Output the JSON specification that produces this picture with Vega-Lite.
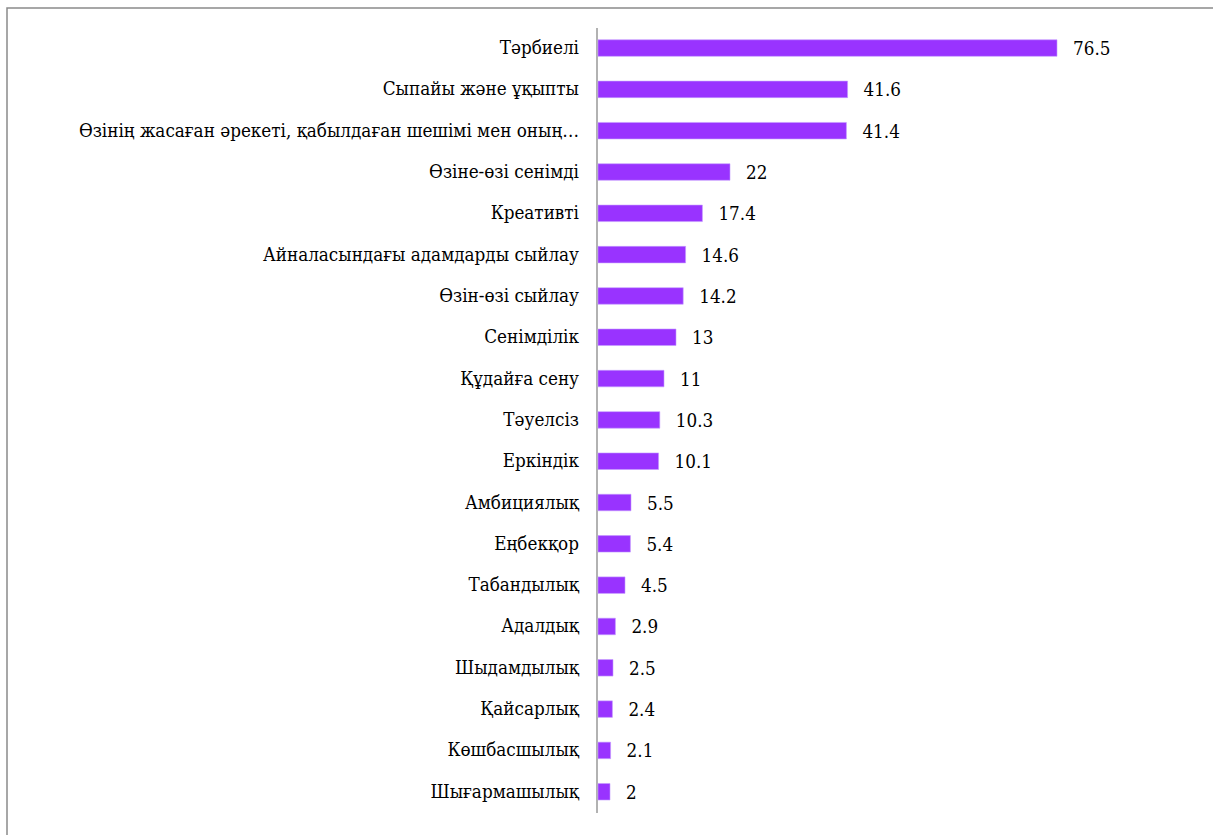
{
  "$schema": "https://vega.github.io/schema/vega-lite/v6.json",
  "autosize": {"type": "none"},
  "padding": {"left": 7, "top": 8, "right": 0, "bottom": 0},
  "width": 1230,
  "height": 850,
  "background": "white",
  "config": {
    "view": {"stroke": "#8a8a8a", "strokeWidth": 1.5},
    "font": "DejaVu Serif Condensed"
  },
  "data": {
    "values": [
      {"label": "Тәрбиелі\u00a0", "value": 76.5},
      {"label": "Сыпайы және ұқыпты", "value": 41.6},
      {"label": "Өзінің жасаған әрекеті, қабылдаған шешімі мен оның…", "value": 41.4},
      {"label": "Өзіне-өзі сенімді", "value": 22},
      {"label": "Креативті", "value": 17.4},
      {"label": "Айналасындағы адамдарды сыйлау\u00a0", "value": 14.6},
      {"label": "Өзін-өзі сыйлау\u00a0", "value": 14.2},
      {"label": "Сенімділік\u00a0", "value": 13},
      {"label": "Құдайға сену", "value": 11},
      {"label": "Тәуелсіз\u00a0", "value": 10.3},
      {"label": "Еркіндік", "value": 10.1},
      {"label": "Амбициялық", "value": 5.5},
      {"label": "Еңбекқор", "value": 5.4},
      {"label": "Табандылық", "value": 4.5},
      {"label": "Адалдық\u00a0", "value": 2.9},
      {"label": "Шыдамдылық", "value": 2.5},
      {"label": "Қайсарлық\u00a0", "value": 2.4},
      {"label": "Көшбасшылық", "value": 2.1},
      {"label": "Шығармашылық", "value": 2}
    ]
  },
  "encoding": {
    "y": {
      "field": "label",
      "type": "nominal",
      "sort": null,
      "scale": {"range": [19.4, 804.4], "paddingInner": 0.6, "paddingOuter": 0.3},
      "axis": {
        "title": null,
        "orient": "left",
        "offset": -589.5,
        "ticks": false,
        "domain": true,
        "domainColor": "#999999",
        "domainWidth": 1.5,
        "labelFont": "DejaVu Serif Condensed",
        "labelFontSize": 18.7,
        "labelColor": "#000000",
        "labelPadding": 18,
        "labelLimit": 600
      }
    },
    "x": {
      "field": "value",
      "type": "quantitative",
      "scale": {"domain": [-98.5, 106.5], "nice": false, "zero": false},
      "axis": null
    }
  },
  "layer": [
    {
      "mark": {"type": "bar", "color": "#9933ff", "stroke": "#c59cff", "strokeWidth": 0.6}
    },
    {
      "mark": {"type": "text", "align": "left", "baseline": "middle", "dx": 16, "dy": 1, "font": "DejaVu Serif Condensed", "fontSize": 18.7, "color": "#000000"},
      "encoding": {"text": {"field": "value", "type": "quantitative"}}
    }
  ]
}
